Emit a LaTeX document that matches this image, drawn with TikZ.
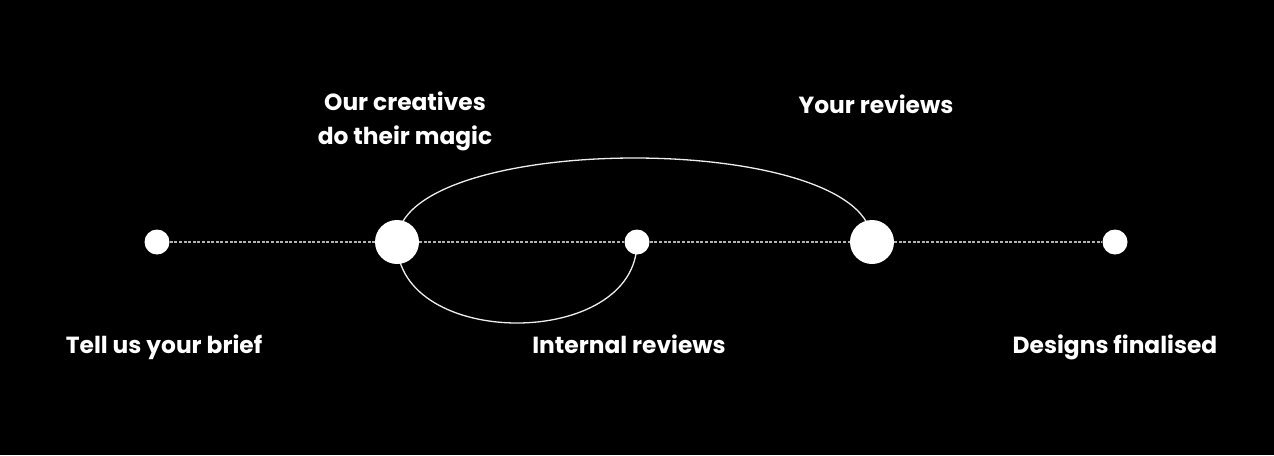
\documentclass[tikz,border=0pt]{standalone}
\usepackage{fontspec}
\setsansfont{Poppins}
\usepackage{xcolor}
\usepackage{tikz}
\usetikzlibrary{
    positioning,
    backgrounds
}
\definecolor{dashgray}{HTML}{B4B4B4}
\definecolor{arcwhite}{HTML}{EEEEEE}
\newlength{\pxunit}
\setlength{\pxunit}{0.75pt}
\tikzstyle{stage} = [
    circle,
    fill=white,
    inner sep=0pt,
    minimum size=25\pxunit
]
\tikzstyle{bigstage} = [
    stage,
    minimum size=44\pxunit
]
\begin{document}
\begin{tikzpicture}[
    x=0.75pt, y=-0.75pt,
    font=\sffamily\bfseries\fontsize{17.5pt}{25pt}\selectfont,
    label/.style={
        text=white,
        anchor=base,
        inner sep=0pt,
        align=center
    },
    timeline/.style={
        dashgray,
        line width=1.2\pxunit,
        dash pattern=on 3\pxunit off 1.6\pxunit
    },
    loop/.style={
        arcwhite,
        line width=1.3\pxunit
    }
]

% Stationen
\node[stage] (brief) at (157,242) {};
\node[bigstage] (magic) at (397,242) {};
\node[stage] (internal) at (637,242) {};
\node[bigstage] (yours) at (872,242) {};
\node[stage] (final) at (1115,242) {};

\begin{scope}[on background layer]
% Hintergrund
\fill[black] (0,0) rectangle (1274,455);

% Zeitachse
\draw[timeline] (brief) -- (magic) -- (internal) -- (yours) -- (final);

% Schleifen
\draw[loop] (magic.center) .. controls +(0,-112) and +(0,-112) .. (yours.center);
\draw[loop] (magic.center) .. controls +(0,108) and +(0,108) .. (internal.center);
\end{scope}

% Beschriftungen
\node[label] (lbrief) at (164,353) {Tell us your brief};
\node[label] (lmagictop) at (405,110) {Our creatives};
\node[label] (lmagic) at (405,144) {do their magic};
\node[label] (linternal) at (629,353) {Internal reviews};
\node[label] (lyours) at (876,113) {Your reviews};
\node[label] (lfinal) at (1115,353) {Designs finalised};

\useasboundingbox (0,0) rectangle (1274,455);
\end{tikzpicture}
\end{document}
